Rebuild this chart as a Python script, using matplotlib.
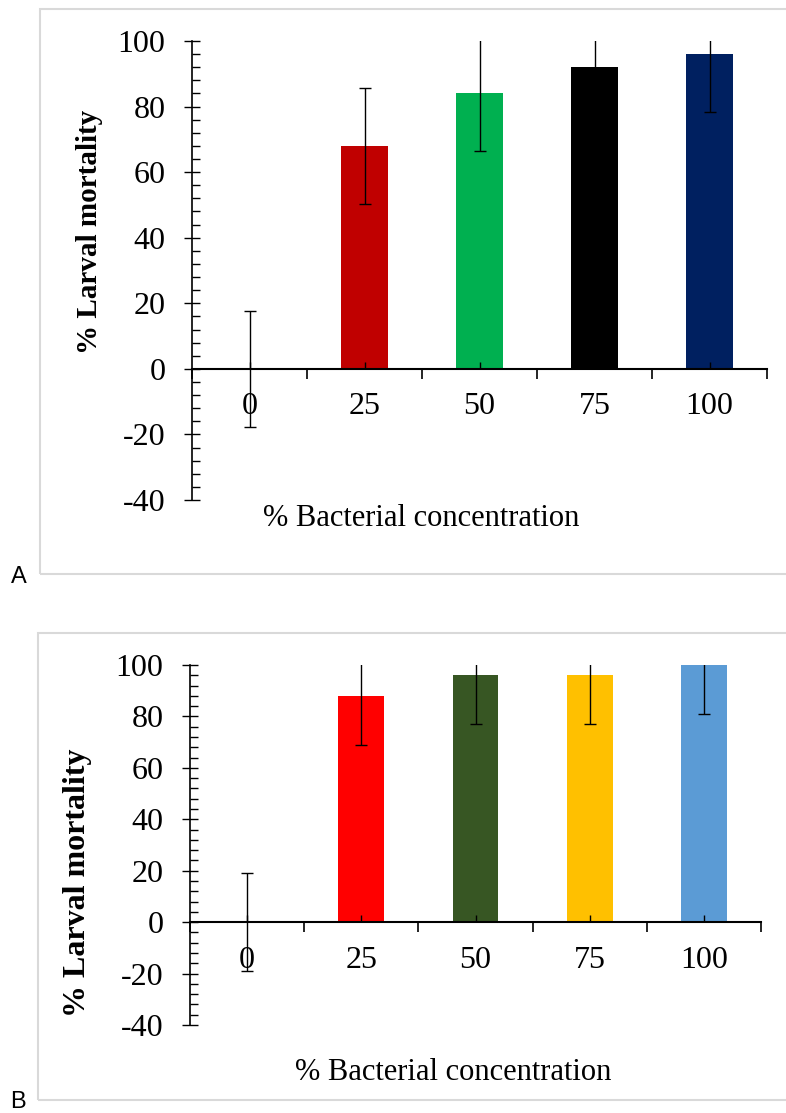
import matplotlib.pyplot as plt
from matplotlib.patches import Rectangle
from matplotlib.ticker import MultipleLocator

plt.rcParams['axes.unicode_minus'] = False

# data
concentrations = ['0', '25', '50', '75', '100']
mortality_a = [0, 68, 84, 92, 96]
error_a = [17.7, 17.7, 17.7, 17.7, 17.7]
colors_a = ['#C00000', '#C00000', '#00B050', '#000000', '#002060']

mortality_b = [0, 88, 96, 96, 100]
error_b = [19, 19, 19, 19, 19]
colors_b = ['#FF0000', '#FF0000', '#375623', '#FFC000', '#5B9BD5']

serif = 'Liberation Serif'

fig = plt.figure(figsize=(7.86, 11.13), dpi=100)


def draw_panel(rect, values, errors, colors, ylabel_size, ylabel_pos, bar_width):
    ax = fig.add_axes(rect)
    x = list(range(len(values)))
    ax.bar(x, values, width=bar_width, color=colors, zorder=1)
    ax.errorbar(x, values, yerr=errors, fmt='none', ecolor='black',
                elinewidth=1, capsize=4, capthick=1, zorder=3)

    ax.set_xlim(-0.5, len(values) - 0.5)
    ax.set_ylim(-40, 100)

    ax.spines['top'].set_visible(False)
    ax.spines['right'].set_visible(False)
    ax.spines['bottom'].set_position(('data', 0))
    ax.spines['left'].set_position(('data', -0.5))
    ax.spines['bottom'].set_linewidth(1.5)
    ax.spines['left'].set_linewidth(1.2)

    # x: labels at category centres, boundary ticks below the axis
    ax.set_xticks(x)
    ax.set_xticklabels(concentrations, fontfamily=serif, fontsize=23)
    ax.set_xticks([i - 0.5 for i in range(len(values) + 1)], minor=True)
    ax.tick_params(axis='x', which='major', direction='in', length=5, width=1, pad=17)
    ax.tick_params(axis='x', which='minor', direction='out', length=7, width=1.2)

    # y: crossing major ticks, inner minor ticks every 4
    ax.set_yticks([-40, -20, 0, 20, 40, 60, 80, 100])
    ax.yaxis.set_minor_locator(MultipleLocator(4))
    for lab in ax.get_yticklabels():
        lab.set_fontfamily(serif)
        lab.set_fontsize(23)
    ax.tick_params(axis='y', which='major', direction='inout', length=12, width=1, pad=13)
    ax.tick_params(axis='y', which='minor', direction='in', length=5.5, width=1)

    ax.set_ylabel('% Larval mortality', fontfamily=serif, fontweight='bold',
                  fontsize=ylabel_size)
    ax.yaxis.set_label_coords(*ylabel_pos)
    return ax


draw_panel([192 / 786, 1 - 500 / 1113, 575 / 786, 459 / 1113],
           mortality_a, error_a, colors_a, 21, (-0.155, 0.584), 0.41)
draw_panel([190 / 786, 1 - 1025 / 1113, 571 / 786, 360 / 1113],
           mortality_b, error_b, colors_b, 23, (-0.172, 0.394), 0.40)

# x axis titles
fig.text(421 / 786, 1 - 518 / 1113, '% Bacterial concentration', fontfamily=serif,
         fontsize=22, ha='center', va='center')
fig.text(453 / 786, 1 - 1073 / 1113, '% Bacterial concentration', fontfamily=serif,
         fontsize=22, ha='center', va='center')

# light grey panel frames
fig.patches.append(Rectangle((40 / 786, 1 - 574 / 1113), 1.0, 565 / 1113,
                             transform=fig.transFigure, fill=False,
                             edgecolor='#d9d9d9', linewidth=1.5))
fig.patches.append(Rectangle((38 / 786, 1 - 1100 / 1113), 1.0, 467 / 1113,
                             transform=fig.transFigure, fill=False,
                             edgecolor='#d9d9d9', linewidth=1.5))

# panel letters
fig.text(19 / 786, 1 - 577 / 1113, 'A', fontfamily='Liberation Sans', fontsize=17,
         ha='center', va='center')
fig.text(18 / 786, 1 - 1102 / 1113, 'B', fontfamily='Liberation Sans', fontsize=17,
         ha='center', va='center')

fig.savefig('out.png', dpi=100)
